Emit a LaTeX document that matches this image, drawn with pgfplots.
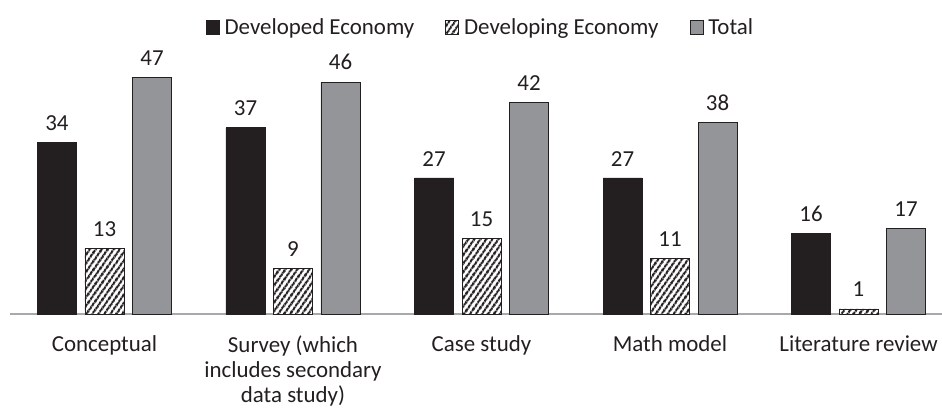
\documentclass[border=0pt]{standalone}
\usepackage{pgfplots}
\pgfplotsset{compat=1.18}
\usepackage{fontspec}
\setmainfont{Carlito}
\usetikzlibrary{patterns.meta}
\definecolor{dk}{HTML}{231F20}
\definecolor{gr}{HTML}{939598}
\definecolor{axl}{HTML}{A7A9AC}
\begin{document}
\fontsize{23}{26}\selectfont
\begin{tikzpicture}
\useasboundingbox (-10bp,-102bp) rectangle (932bp,313bp);
\begin{axis}[
  at={(0,-1bp)}, anchor=south west,
  scale only axis,
  width=932bp, height=252bp,
  xmin=-0.5013, xmax=4.443,
  ymin=0, ymax=50,
  ybar, bar width=39bp,
  /pgf/number format/assume math mode=true,
  axis x line=bottom, axis y line=none,
  x axis line style={draw=axl, line width=2.4pt, -},
  xtick={0,1,2,3,4},
  xticklabels={Conceptual,{Survey (which\\includes secondary\\data study)},Case study,Math model,Literature review},
  xticklabel style={align=center, font=\fontsize{23}{25}\selectfont, text=dk, anchor=north, yshift=-14bp},
  major tick length=0pt,
  ytick=\empty,
  clip=false,
  nodes near coords,
  every node near coord/.append style={font=\fontsize{23}{26}\selectfont, text=dk, yshift=4bp},
  legend columns=3,
  legend style={draw=none, at={(0.505,1)}, anchor=south, yshift=20bp, font=\fontsize{23}{26}\selectfont, text=dk,
    /tikz/every even column/.append style={column sep=29bp}, /tikz/every odd column/.append style={column sep=3bp}},
  legend image code/.code={\draw[#1] (0bp,-6bp) rectangle (13bp,8bp);},
]
\addplot[fill=dk, draw=dk, bar shift=-47.5bp] coordinates {(0,34) (1,37) (2,27) (3,27) (4,16)};
\addplot[fill=white, draw=dk, line width=0.8pt, bar shift=0bp, postaction={pattern={Lines[angle=55,distance=5.2bp,line width=2.5bp]}, pattern color=dk}] coordinates {(0,13) (1,9) (2,15) (3,11) (4,1)};
\addplot[fill=gr, draw=dk, line width=0.8pt, bar shift=47.5bp] coordinates {(0,47) (1,46) (2,42) (3,38) (4,17)};
\legend{Developed Economy, Developing Economy, Total}
\end{axis}
\end{tikzpicture}
\end{document}
